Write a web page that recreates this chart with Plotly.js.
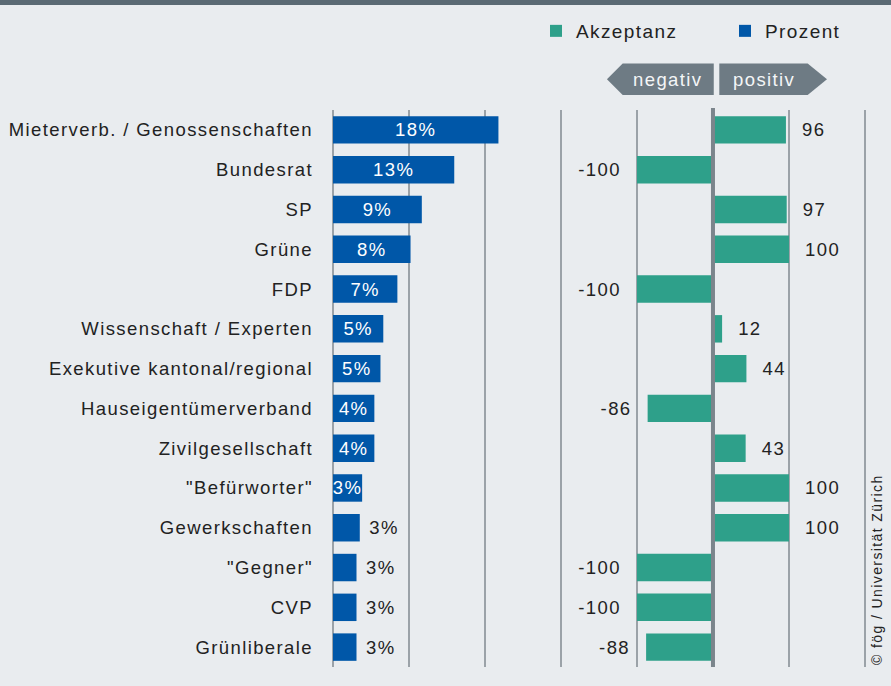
<!DOCTYPE html>
<html><head><meta charset="utf-8">
<script src="https://cdn.plot.ly/plotly-3.0.1.min.js"></script>
<style>
html,body{margin:0;padding:0;background:#e9ecef;}
text{letter-spacing:1.4px;}
</style>
</head><body><div id="chart" style="width:891px;height:686px;"></div>
<script>
const categories = [
  'Mieterverb. / Genossenschaften', 'Bundesrat', 'SP', 'Grüne', 'FDP',
  'Wissenschaft / Experten', 'Exekutive kantonal/regional', 'Hauseigentümerverband',
  'Zivilgesellschaft', '"Befürworter"', 'Gewerkschaften', '"Gegner"', 'CVP', 'Grünliberale'
];
const percentValues = [17.6, 12.9, 9.45, 8.25, 6.85, 5.35, 5.05, 4.4, 4.4, 3.1, 2.85, 2.5, 2.5, 2.5];
const acceptanceValues = [96, -100, 97, 100, -100, 12, 44, -86, 43, 100, 100, -100, -100, -88];
const seriesNames = ['Akzeptanz', 'Prozent'];
const directionLabels = ['negativ', 'positiv'];
const sourceNote = '© fög / Universität Zürich';

const FONT = '"Liberation Sans", Arial, sans-serif';
const GREEN = '#2ea08a';
const BLUE = '#0057a8';
const DARK = '#222222';
const NB = '\u00a0\u00a0';

const insideThreshold = 3;

// acceptance on x/y (grid subplot, drawn first), percent on x2/y2 (drawn above grid)
const acceptanceTrace = {
  type: 'bar', orientation: 'h', name: seriesNames[0],
  x: acceptanceValues, y: categories, xaxis: 'x', yaxis: 'y',
  marker: {color: GREEN},
  text: acceptanceValues.map(v => v >= 0 ? NB + v : v + NB),
  textposition: 'outside', constraintext: 'none', cliponaxis: false,
  outsidetextfont: {family: FONT, size: 18.5, color: DARK},
  hoverinfo: 'skip'
};
const percentTrace = {
  type: 'bar', orientation: 'h', name: seriesNames[1],
  x: percentValues, y: categories, xaxis: 'x2', yaxis: 'y2',
  marker: {color: BLUE},
  text: percentValues.map(v => (v >= insideThreshold ? '' : '\u00a0') + Math.round(v) + '%'),
  textposition: percentValues.map(v => v >= insideThreshold ? 'inside' : 'outside'),
  insidetextanchor: 'middle', constraintext: 'none', cliponaxis: true,
  insidetextfont: {family: FONT, size: 18.5, color: '#ffffff'},
  outsidetextfont: {family: FONT, size: 18.5, color: DARK},
  hoverinfo: 'skip'
};

const W = 891, H = 686, ML = 320, MR = 15, MT = 110, MB = 19;
const PW = W - ML - MR, PH = H - MT - MB;
const py = p => (H - MB - p) / PH;
const px = p => (p - ML) / PW;

const arrowColor = '#6e7b84';
const shapes = [
  {type: 'rect', xref: 'paper', yref: 'paper', x0: -1, x1: 2, y0: py(5), y1: py(-2),
   fillcolor: '#5b6a74', line: {width: 0}},
  {type: 'path', xref: 'x', yref: 'paper', layer: 'above',
   path: `M -118.8,${py(63.5)} L 1,${py(63.5)} L 1,${py(95)} L -118.8,${py(95)} L -139.5,${py(79.25)} Z`,
   fillcolor: arrowColor, line: {width: 0}},
  {type: 'path', xref: 'x', yref: 'paper', layer: 'above',
   path: `M 8.3,${py(63.5)} L 124.6,${py(63.5)} L 150,${py(79.25)} L 124.6,${py(95)} L 8.3,${py(95)} Z`,
   fillcolor: arrowColor, line: {width: 0}},
  {type: 'line', xref: 'x', yref: 'paper', x0: 0, x1: 0, y0: 0, y1: py(108), layer: 'above',
   line: {color: '#7b858c', width: 4}}
];

const annotations = [
  {xref: 'x', yref: 'paper', x: -60, y: py(79.5), xanchor: 'center', yanchor: 'middle',
   text: directionLabels[0], showarrow: false,
   font: {family: FONT, size: 18.5, color: '#f4f6f7'}},
  {xref: 'x', yref: 'paper', x: 67, y: py(79.5), xanchor: 'center', yanchor: 'middle',
   text: directionLabels[1], showarrow: false,
   font: {family: FONT, size: 18.5, color: '#f4f6f7'}},
  {xref: 'paper', yref: 'paper', x: px(877), y: py(570), xanchor: 'center', yanchor: 'middle',
   text: sourceNote, textangle: -90, showarrow: false,
   font: {family: FONT, size: 14, color: DARK}}
];

const layout = {
  width: W, height: H,
  margin: {l: ML, r: MR, t: MT, b: MB, pad: 0},
  paper_bgcolor: '#e9ecef', plot_bgcolor: 'rgba(0,0,0,0)',
  font: {family: FONT, size: 18.5, color: DARK},
  barmode: 'group', bargap: 0.31,
  showlegend: true,
  legend: {orientation: 'h', xref: 'container', yref: 'container',
    x: 536 / W, y: 1 - 31 / H, xanchor: 'left', yanchor: 'middle',
    entrywidth: 144, entrywidthmode: 'pixels', traceorder: 'normal',
    bgcolor: 'rgba(0,0,0,0)', font: {family: FONT, size: 19, color: DARK}},
  xaxis: {domain: [0, 1], anchor: 'y', range: [-517.1, 214.5], tick0: 0, dtick: 100,
    showgrid: true, gridcolor: '#9ba2a8', gridwidth: 1.3, zeroline: false,
    showticklabels: false, ticks: '', fixedrange: true},
  xaxis2: {domain: [0, 1], anchor: 'y2', range: [-1.383, 57.77], showgrid: false, zeroline: false,
    showticklabels: false, ticks: '', fixedrange: true},
  yaxis: {domain: [0, 1], anchor: 'x', type: 'category', categoryorder: 'array',
    categoryarray: categories, autorange: 'reversed', showgrid: false, zeroline: false,
    ticks: '', ticklabelstandoff: 6, tickfont: {family: FONT, size: 18.5, color: DARK}, fixedrange: true},
  yaxis2: {domain: [0, 1], anchor: 'x2', type: 'category', categoryorder: 'array',
    categoryarray: categories, autorange: 'reversed', showgrid: false, zeroline: false,
    showticklabels: false, ticks: '', fixedrange: true},
  shapes: shapes,
  annotations: annotations
};

Plotly.newPlot('chart', [acceptanceTrace, percentTrace], layout, {displayModeBar: false, staticPlot: true});
</script>
</body></html>
